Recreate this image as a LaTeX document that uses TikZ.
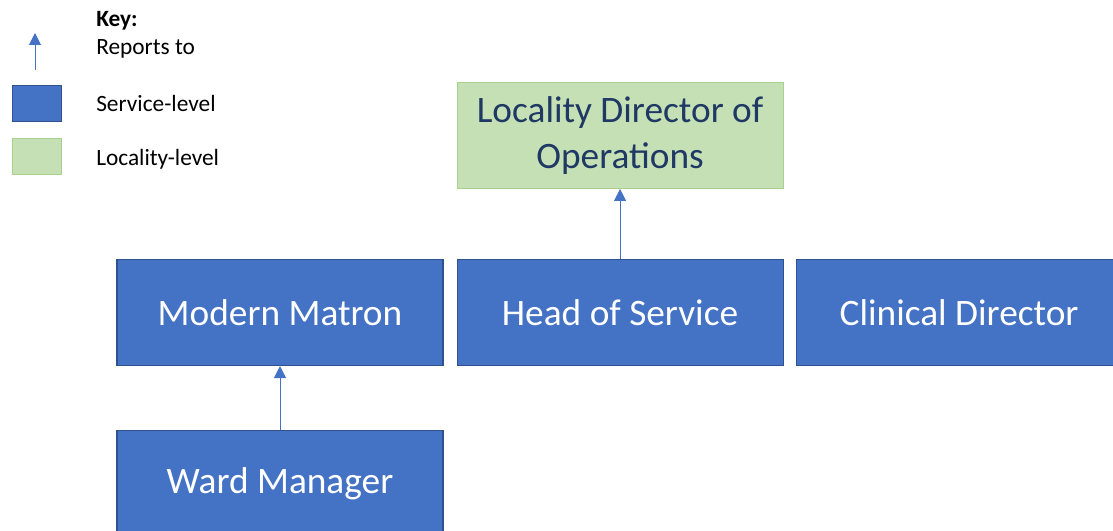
\documentclass[tikz,border=0pt]{standalone}
\usepackage{fontspec}
\setmainfont{Carlito}
\usetikzlibrary{arrows.meta,positioning}

\definecolor{servblue}{HTML}{4472C4}
\definecolor{servedge}{HTML}{2F528F}
\definecolor{locgreen}{HTML}{C5E0B4}
\definecolor{locedge}{HTML}{A9D18E}
\definecolor{loctext}{HTML}{1F3864}

\begin{document}
\begin{tikzpicture}[x=0.75pt,y=-0.75pt]

	\tikzstyle{service}=[rectangle,fill=servblue,draw=servedge,line width=0.8pt,
		minimum width=244.5pt,minimum height=79.5pt,inner sep=0pt,
		text=white,font=\fontsize{28}{34}\selectfont,align=center]
	\tikzstyle{locality}=[service,fill=locgreen,draw=locedge,text=loctext]
	\tikzstyle{keybox}=[rectangle,minimum width=37pt,minimum height=27.5pt,
		inner sep=0pt,line width=0.8pt]
	\tikzstyle{keytext}=[anchor=base west,inner sep=0pt,font=\fontsize{17.5}{21}\selectfont]
	\tikzstyle{arrow}=[-{Triangle[width=9pt,length=9pt]},draw=servblue,line width=0.75pt]

	\useasboundingbox (0,0) rectangle (1113,531);
	\clip (0,0) rectangle (1113,531);

	% key
	\node[keytext,font=\fontsize{17.5}{21}\selectfont\bfseries](keytitle) at (96,27){Key:};
	\node[keytext](keyreports) at (96,54.5){Reports to};
	\node[keybox,fill=servblue,draw=servedge](keyservice) at (37,103.5){};
	\node[keytext](keyservicetext) at (96,111.5){Service-level};
	\node[keybox,fill=locgreen,draw=locedge](keylocality) at (37,156.5){};
	\node[keytext](keylocalitytext) at (96,165.5){Locality-level};
	\coordinate (keytail) at (35,70);
	\coordinate (keyhead) at (35,33);

	% chart
	\node[service](matron) at (280,312.5){Modern Matron};
	\node[service,right=9.75pt of matron](head){Head of Service};
	\node[service,right=9pt of head](clinical){Clinical Director};
	\node[locality,above=52.5pt of head](locality){Locality Director of\\ Operations};
	\node[service,below=48pt of matron](ward){\raisebox{-2pt}{Ward Manager}};

	\draw[arrow] (keytail) -- (keyhead);
	\draw[arrow] (head) -- (locality);
	\draw[arrow] (ward) -- (matron);

\end{tikzpicture}
\end{document}
